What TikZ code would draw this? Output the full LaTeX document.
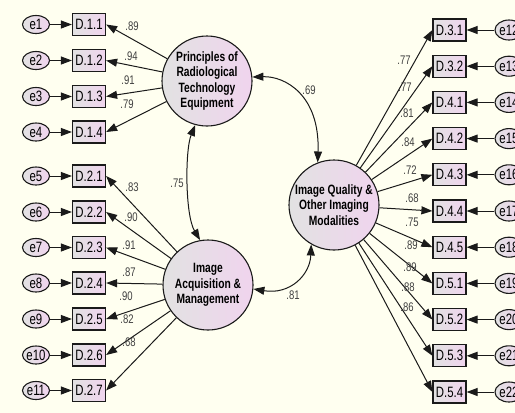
\documentclass[tikz,border=0pt]{standalone}
\usepackage{fontspec}
\setmainfont{Liberation Sans}
\newfontfamily\narrowfont[FakeStretch=0.76]{Liberation Sans}
\usetikzlibrary{arrows.meta,shapes.geometric}
\definecolor{bgcol}{HTML}{FFFFF0}
\definecolor{greyfill}{HTML}{E2E2E2}
\definecolor{pinkfill}{HTML}{F0D4EE}
\definecolor{edgecol}{HTML}{1A1A1A}
\begin{document}
\begin{tikzpicture}[x=1pt,y=-1pt,
  obs/.style={rectangle, draw=edgecol, line width=1.2pt, minimum width=33pt, minimum height=22pt, inner sep=0pt,
    left color=greyfill, right color=pinkfill, font=\narrowfont\fontsize{15}{16}\selectfont},
  lat/.style={circle, draw=edgecol, line width=1.1pt, minimum size=90pt, inner sep=0pt, align=center,
    left color=greyfill, right color=pinkfill, font=\narrowfont\bfseries\fontsize{13.5}{15.5}\selectfont},
  err/.style={ellipse, draw=edgecol, line width=1.1pt, minimum width=27pt, minimum height=18pt, inner sep=0pt,
    left color=greyfill, right color=pinkfill, font=\narrowfont\fontsize{15}{15}\selectfont},
  load/.style={draw=edgecol, line width=1pt, -{Triangle[length=11pt,width=8pt]}},
  cov/.style={draw=edgecol, line width=1pt, {Triangle[length=11pt,width=8pt]}-{Triangle[length=11pt,width=8pt]}},
  lbl/.style={font=\narrowfont\fontsize{12.5}{12.5}\selectfont, text=black!75, inner sep=0pt}
]
\clip (0,0) rectangle (515,413);
\fill[bgcol] (0,0) rectangle (515,413);

% latent variables
\node[lat] (Pr) at (207,81) {Principles of\\Radiological\\Technology\\Equipment};
\node[lat] (IA) at (208,285) {Image\\Acquisition \&\\Management};
\node[lat] (IQ) at (334,205) {Image Quality \&\\Other Imaging\\Modalities};

% group 1
\foreach \n/\t/\y/\e in {D11/D.1.1/24.5/1, D12/D.1.2/60.5/2, D13/D.1.3/96.5/3, D14/D.1.4/132/4}{
  \node[err] (e\e) at (36,\y) {e\e};
  \node[obs] (\n) at (89,\y) {\t};
  \draw[load] (e\e) -- (\n);
  \draw[load] (Pr) -- (\n.east);
}
% group 2
\foreach \n/\t/\y/\e in {D21/D.2.1/176/5, D22/D.2.2/212/6, D23/D.2.3/247.5/7, D24/D.2.4/283/8,
  D25/D.2.5/319/9, D26/D.2.6/355/10, D27/D.2.7/390.5/11}{
  \node[err] (e\e) at (36,\y) {e\e};
  \node[obs] (\n) at (89,\y) {\t};
  \draw[load] (e\e) -- (\n);
  \draw[load] (IA) -- (\n.east);
}
% group 3
\foreach \n/\t/\y/\e in {D31/D.3.1/30/12, D32/D.3.2/66.2/13, D41/D.4.1/102.4/14, D42/D.4.2/138.6/15,
  D43/D.4.3/174.8/16, D44/D.4.4/211/17, D45/D.4.5/247.2/18, D51/D.5.1/283.4/19,
  D52/D.5.2/319.6/20, D53/D.5.3/355.8/21, D54/D.5.4/392/22}{
  \node[err, minimum width=28pt, minimum height=20pt] (e\e) at (509,\y) {e\e};
  \node[obs] (\n) at (449.5,\y) {\t};
  \draw[load] (e\e) -- (\n);
  \draw[load] (IQ) -- (\n.west);
}

% covariances
\draw[cov] (Pr.5) .. controls (285,76) and (320,95) .. (IQ.111);
\draw[cov] (Pr.255) .. controls (185,150) and (185,215) .. (IA.100);
\draw[cov] (IA.-5) .. controls (290,295) and (310,275) .. (IQ.240);

% labels
\foreach \nm/\x/\y/\v in {a1/132/26/.89, a2/131/56/.94, a3/128/80/.91, a4/127/104/.79,
  b1/132/187/.83, b2/131/217/.90, b3/129/245/.91, b4/129/272/.87, b5/126/296/.90, b6/127/319/.82, b7/129/342/.68,
  c1/404/60/.77, c2/405/87/.77, c3/407/113/.81, c4/408/142/.84, c5/410/170/.72, c6/412/198/.68,
  c7/412/222/.75, c8/411/245/.89, c9/410/267/.89, c10/408/287/.88, c11/407/307/.86,
  r1/177/183/.75, r2/309/90/.69, r3/293/295/.81}{
  \node[lbl] (\nm) at (\x,\y) {\v};
}
\end{tikzpicture}
\end{document}
